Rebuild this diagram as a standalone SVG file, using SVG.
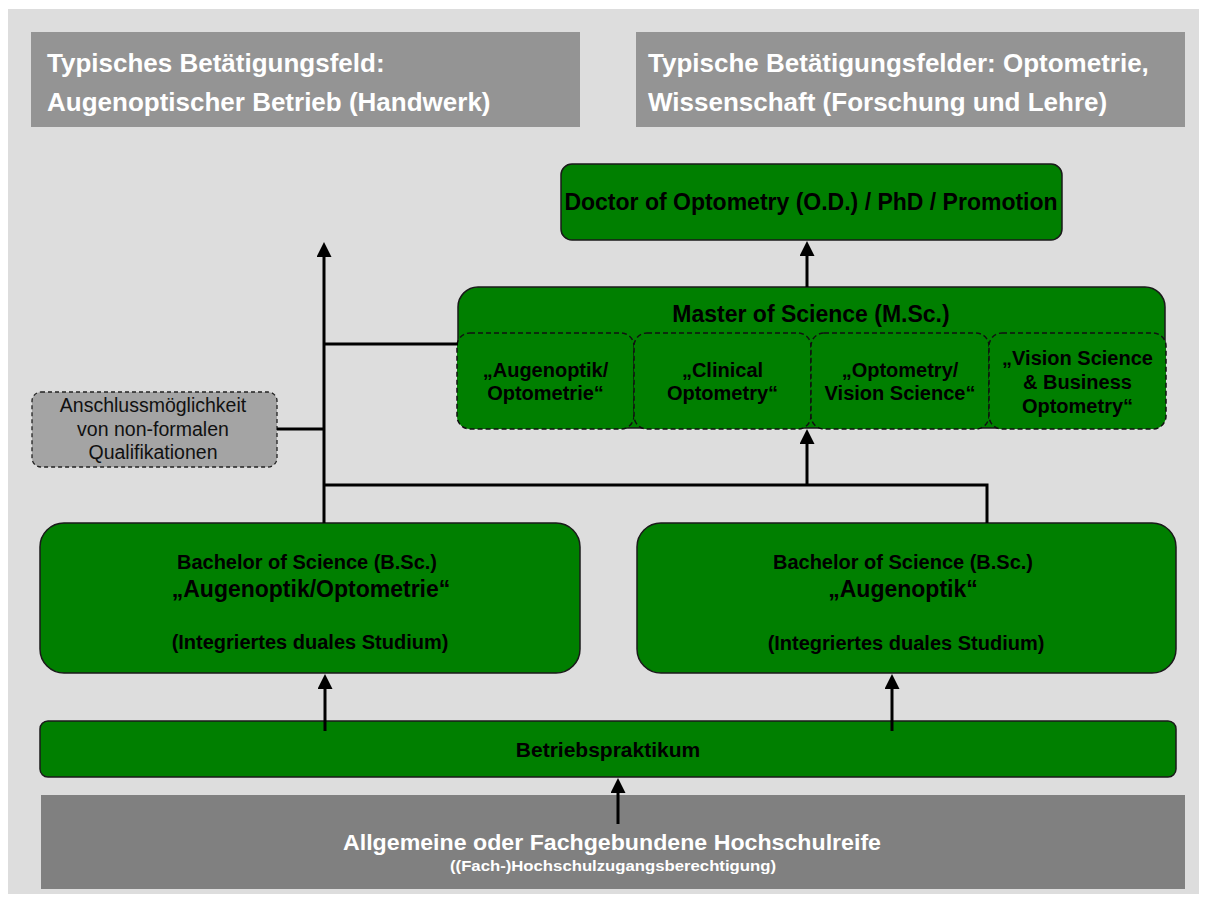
<svg xmlns="http://www.w3.org/2000/svg" width="1206" height="899" viewBox="0 0 1206 899">
<defs>
<marker id="ah" viewBox="0 0 10 10" refX="0" refY="5" markerUnits="userSpaceOnUse" markerWidth="16" markerHeight="15" orient="auto"><path d="M0,0 L10,5 L0,10 z" fill="#000"/></marker>
</defs>
<style>
text{font-family:"Liberation Sans",Arial,sans-serif;text-anchor:middle}
.b{font-weight:bold}
.hd{fill:#949494}
.hdt{fill:#fff;font-weight:bold;font-size:26px;text-anchor:start}
.g{fill:#007f00;stroke:#1a1a1a;stroke-width:1.5}
.sub{fill:#007f00;stroke:#111;stroke-width:1.5;stroke-dasharray:5 3}
.t{fill:#000;font-weight:bold}
.c{fill:none;stroke:#000;stroke-width:3}
.a{fill:none;stroke:#000;stroke-width:3;marker-end:url(#ah)}
</style>
<rect x="8" y="9" width="1191" height="885" fill="#dddddd"/>
<g id="header-left">
<rect class="hd" x="31" y="32" width="549" height="95"/>
<text class="hdt" x="47" y="72">Typisches Betätigungsfeld:</text>
<text class="hdt" x="47" y="111">Augenoptischer Betrieb (Handwerk)</text>
</g>
<g id="header-right">
<rect class="hd" x="636" y="32" width="549" height="95"/>
<text class="hdt" x="648" y="72">Typische Betätigungsfelder: Optometrie,</text>
<text class="hdt" x="648" y="111">Wissenschaft (Forschung und Lehre)</text>
</g>
<g id="doctor">
<rect class="g" x="561" y="164" width="501" height="76" rx="11"/>
<text class="t" x="811" y="210" font-size="23">Doctor of Optometry (O.D.) / PhD / Promotion</text>
</g>
<g id="master">
<rect class="g" x="458" y="287" width="707" height="141" rx="20"/>
<text class="t" x="811" y="322" font-size="23">Master of Science (M.Sc.)</text>
<g id="master-augenoptik">
<rect class="sub" x="457" y="333" width="177" height="96" rx="13"/>
<text class="t" x="545.5" y="377" font-size="20">„Augenoptik/</text>
<text class="t" x="545.5" y="400" font-size="20">Optometrie“</text>
</g>
<g id="master-clinical">
<rect class="sub" x="634" y="333" width="177" height="96" rx="13"/>
<text class="t" x="722.5" y="377" font-size="20">„Clinical</text>
<text class="t" x="722.5" y="400" font-size="20">Optometry“</text>
</g>
<g id="master-vision">
<rect class="sub" x="811" y="333" width="178" height="96" rx="13"/>
<text class="t" x="900" y="377" font-size="20">„Optometry/</text>
<text class="t" x="900" y="400" font-size="20">Vision Science“</text>
</g>
<g id="master-business">
<rect class="sub" x="989" y="333" width="177" height="96" rx="13"/>
<text class="t" x="1077.5" y="365" font-size="20">„Vision Science</text>
<text class="t" x="1077.5" y="389" font-size="20">&amp; Business</text>
<text class="t" x="1077.5" y="413" font-size="20">Optometry“</text>
</g>
</g>
<g id="anschluss">
<rect x="32" y="392" width="245" height="75" rx="9" fill="#a4a4a4" stroke="#222" stroke-width="1.3" stroke-dasharray="4 3"/>
<text x="153" y="412" font-size="19.5" fill="#111">Anschlussmöglichkeit</text>
<text x="153" y="436" font-size="19.5" fill="#111">von non-formalen</text>
<text x="153" y="459" font-size="19.5" fill="#111">Qualifikationen</text>
</g>
<g id="bachelor-left">
<rect class="g" x="40" y="523" width="540" height="150" rx="24"/>
<text class="t" x="307" y="569" font-size="20">Bachelor of Science (B.Sc.)</text>
<text class="t" x="311" y="597" font-size="23">„Augenoptik/Optometrie“</text>
<text class="t" x="310" y="649" font-size="20">(Integriertes duales Studium)</text>
</g>
<g id="bachelor-right">
<rect class="g" x="637" y="523" width="539" height="150" rx="24"/>
<text class="t" x="903" y="569" font-size="20">Bachelor of Science (B.Sc.)</text>
<text class="t" x="903" y="597" font-size="23">„Augenoptik“</text>
<text class="t" x="906" y="650" font-size="20">(Integriertes duales Studium)</text>
</g>
<g id="betriebspraktikum">
<rect class="g" x="40" y="721" width="1136" height="56" rx="8"/>
<text class="t" x="608" y="757" font-size="21">Betriebspraktikum</text>
</g>
<g id="hochschulreife">
<rect x="41" y="795" width="1144" height="94" fill="#808080"/>
<text class="b" x="612" y="850" font-size="22" fill="#fff" textLength="538" lengthAdjust="spacingAndGlyphs">Allgemeine oder Fachgebundene Hochschulreife</text>
<text class="b" x="613" y="871" font-size="14.5" fill="#fff" textLength="326" lengthAdjust="spacingAndGlyphs">((Fach-)Hochschulzugangsberechtigung)</text>
</g>
<g id="connectors">
<line class="a" x1="324" y1="523" x2="324" y2="257"/>
<line class="c" x1="324" y1="344" x2="458" y2="344"/>
<line class="c" x1="277" y1="429" x2="324" y2="429"/>
<polyline class="c" points="324,485 987,485 987,523"/>
<line class="a" x1="807" y1="485" x2="807" y2="444"/>
<line class="a" x1="807" y1="287" x2="807" y2="256"/>
<line class="a" x1="325" y1="731" x2="325" y2="689"/>
<line class="a" x1="892" y1="731" x2="892" y2="689"/>
<line class="a" x1="618" y1="824" x2="618" y2="793"/>
</g>
</svg>
